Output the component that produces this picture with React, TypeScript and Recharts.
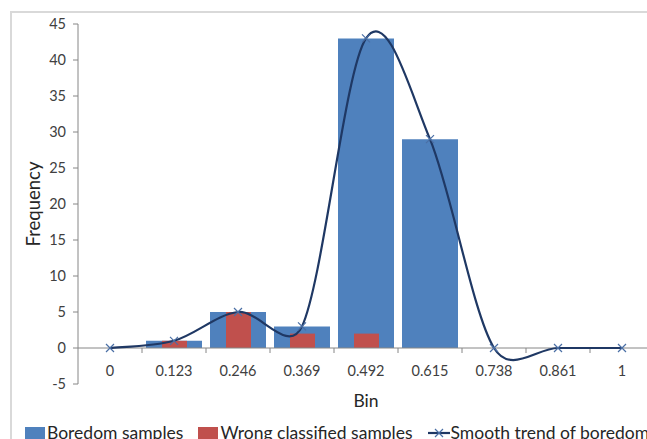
import React from "react";
import { Bar, ComposedChart, Label, Line, ReferenceLine, XAxis, YAxis } from "recharts";

const bins = ["0", "0.123", "0.246", "0.369", "0.492", "0.615", "0.738", "0.861", "1"];
const boredomSamples = [0, 1, 5, 3, 43, 29, 0, 0, 0];
const wrongClassified = [0, 1, 5, 2, 2, 0, 0, 0, 0];
const yTicks = [-5, 0, 5, 10, 15, 20, 25, 30, 35, 40, 45];

const BLUE = "#4F81BD";
const RED = "#C0504D";
const NAVY = "#1F3864";
const MARKER = "#4A6FA5";
const AXIS = "#868686";
const TEXT = "#404040";
const FONT = "Lato, 'Open Sans', sans-serif";

const data = bins.map((bin, i) => ({
  bin,
  boredom: boredomSamples[i],
  wrong: wrongClassified[i],
}));

const dist = (a: number[], b: number[]) => Math.hypot(a[0] - b[0], a[1] - b[1]);

// Excel-style smoothed line: Catmull-Rom beziers, with control arms shortened
// when a neighbour is far away compared with the segment itself
const excelSmooth = (context: any) => {
  let pts: [number, number][] = [];
  return {
    areaStart() {},
    areaEnd() {},
    lineStart() {
      pts = [];
    },
    point(x: number, y: number) {
      pts.push([+x, +y]);
    },
    lineEnd() {
      if (!pts.length) return;
      context.moveTo(pts[0][0], pts[0][1]);
      for (let i = 0; i < pts.length - 1; i++) {
        const p0 = pts[Math.max(i - 1, 0)];
        const p1 = pts[i];
        const p2 = pts[i + 1];
        const p3 = pts[Math.min(i + 2, pts.length - 1)];
        const d12 = dist(p1, p2);
        const d02 = dist(p0, p2);
        const d13 = dist(p1, p3);
        let f1 = 1 / 6;
        let f2 = 1 / 6;
        if (d02 / 6 > d12 / 2) f1 = d12 / (2 * d02);
        if (d13 / 6 > d12 / 2) f2 = d12 / (2 * d13);
        context.bezierCurveTo(
          p1[0] + (p2[0] - p0[0]) * f1,
          p1[1] + (p2[1] - p0[1]) * f1,
          p2[0] - (p3[0] - p1[0]) * f2,
          p2[1] - (p3[1] - p1[1]) * f2,
          p2[0],
          p2[1]
        );
      }
    },
  };
};

const Cross = ({ cx, cy, index }: any) => {
  if (cx == null || cy == null) return <g key={index} />;
  const r = 4;
  return (
    <path
      key={index}
      d={`M${cx - r},${cy - r}L${cx + r},${cy + r}M${cx - r},${cy + r}L${cx + r},${cy - r}`}
      stroke={MARKER}
      strokeWidth={1.2}
      fill="none"
    />
  );
};

// x axis crosses at zero, with tick marks between the bins
const ZeroAxis = (props: any) => {
  const { x1, y1, x2 } = props;
  const step = (x2 - x1) / bins.length;
  return (
    <g stroke={AXIS} strokeWidth={1}>
      <line x1={x1} y1={y1} x2={x2} y2={y1} />
      {bins.map((b, i) => (
        <line key={b} x1={x1 + (i + 1) * step} x2={x1 + (i + 1) * step} y1={y1} y2={y1 + 5} />
      ))}
    </g>
  );
};

const BinTick = ({ x, y, payload }: any) => (
  <text x={x} y={y - 14} textAnchor="middle" dominantBaseline="central" fontSize={14.5} fill={TEXT} fontFamily={FONT}>
    {payload.value}
  </text>
);

const legendItems = [
  { name: "Boredom samples", color: BLUE, kind: "bar" },
  { name: "Wrong classified samples", color: RED, kind: "bar" },
  { name: "Smooth trend of boredom", color: NAVY, kind: "line" },
];

const App = () => {
  return (
    <div
      style={{
        position: "absolute",
        left: 0,
        top: 0,
        width: 647,
        height: 439,
        overflow: "hidden",
        background: "#fff",
        fontFamily: FONT,
      }}
    >
      <div
        style={{
          position: "absolute",
          left: 10,
          top: 11,
          width: 800,
          height: 600,
          borderLeft: "2px solid #D9D9D9",
          borderTop: "2px solid #D9D9D9",
        }}
      />
      <div style={{ position: "absolute", left: 0, top: 0 }}>
        <ComposedChart
          width={720}
          height={460}
          data={data}
          margin={{ top: 24, right: 66, left: 0, bottom: 60 }}
        >
          <XAxis
            xAxisId="main"
            dataKey="bin"
            axisLine={false}
            tickLine={false}
            tickSize={0}
            tickMargin={0}
            height={16}
            tick={<BinTick />}
            interval={0}
          >
            <Label
              content={({ viewBox }: any) => (
                <text
                  x={viewBox.x + viewBox.width / 2}
                  y={viewBox.y + 16}
                  textAnchor="middle"
                  dominantBaseline="central"
                  fontSize={17.5}
                  fill="#262626"
                  fontFamily={FONT}
                >
                  Bin
                </text>
              )}
            />
          </XAxis>
          <XAxis xAxisId="over" dataKey="bin" hide />
          <YAxis
            width={78}
            domain={[-5, 45]}
            ticks={yTicks}
            interval={0}
            stroke={AXIS}
            tickSize={5}
            tickMargin={7}
            tick={{ fontSize: 14.5, fill: TEXT, fontFamily: FONT }}
          >
            <Label
              content={({ viewBox }: any) => {
                const cx = viewBox.x + 33;
                const cy = viewBox.y + viewBox.height / 2;
                return (
                  <text
                    x={cx}
                    y={cy}
                    transform={`rotate(-90, ${cx}, ${cy})`}
                    textAnchor="middle"
                    dominantBaseline="central"
                    fontSize={18.5}
                    fill="#262626"
                    fontFamily={FONT}
                  >
                    Frequency
                  </text>
                );
              }}
            />
          </YAxis>
          <Bar xAxisId="main" dataKey="boredom" name="Boredom samples" fill={BLUE} barSize={56} isAnimationActive={false} />
          <Bar xAxisId="over" dataKey="wrong" name="Wrong classified samples" fill={RED} barSize={25} isAnimationActive={false} />
          <ReferenceLine xAxisId="main" y={0} shape={<ZeroAxis />} />
          <Line
            xAxisId="main"
            dataKey="boredom"
            name="Smooth trend of boredom"
            type={excelSmooth as any}
            stroke={NAVY}
            strokeWidth={2.2}
            dot={<Cross />}
            activeDot={false}
            isAnimationActive={false}
          />
        </ComposedChart>
      </div>
      <div
        style={{
          position: "absolute",
          left: 25,
          top: 423,
          display: "flex",
          alignItems: "center",
          whiteSpace: "nowrap",
          fontSize: 17.5,
          color: "#262626",
          lineHeight: "20px",
        }}
      >
        {legendItems.map((item) => (
          <div key={item.name} style={{ display: "flex", alignItems: "center", marginRight: 15 }}>
            {item.kind === "bar" ? (
              <span style={{ display: "inline-block", width: 20, height: 12, background: item.color, marginRight: 2 }} />
            ) : (
              <svg width={22} height={12} style={{ marginRight: 1 }}>
                <line x1={0} y1={6} x2={22} y2={6} stroke={item.color} strokeWidth={2.2} />
                <path d="M7,2L15,10M7,10L15,2" stroke={MARKER} strokeWidth={1.2} fill="none" />
              </svg>
            )}
            <span>{item.name}</span>
          </div>
        ))}
      </div>
    </div>
  );
};

export default App;
